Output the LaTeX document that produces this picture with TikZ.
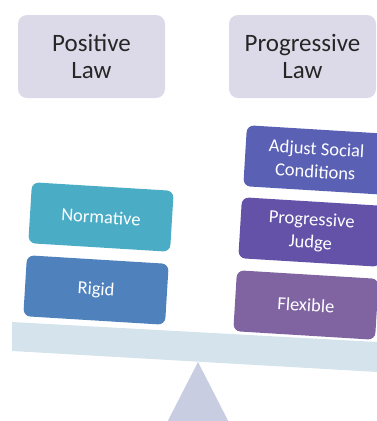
\documentclass[tikz,border=0pt]{standalone}
\usepackage{fontspec}
\setmainfont{Carlito}
\definecolor{headfill}{RGB}{220,218,232}
\definecolor{normfill}{RGB}{75,172,198}
\definecolor{rigidfill}{RGB}{79,129,189}
\definecolor{adjfill}{RGB}{90,96,180}
\definecolor{judgefill}{RGB}{100,82,168}
\definecolor{flexfill}{RGB}{128,100,162}
\definecolor{beamfill}{RGB}{213,228,236}
\definecolor{pivotfill}{RGB}{200,205,226}

\begin{document}
\begin{tikzpicture}[x=1pt,y=1pt,
	head/.style={rectangle,rounded corners=9pt,fill=headfill,text=black!85,minimum width=147pt,minimum height=83pt,align=center,font=\fontsize{25}{27}\selectfont},
	block/.style={rectangle,rounded corners=7pt,text=white,minimum width=142pt,minimum height=61pt,align=center,rotate=-3.5,font=\fontsize{18.5}{23}\selectfont}]
		\clip (0,0) rectangle (377,-421);
		\fill[pivotfill] (198,-362) -- (158,-440) -- (238,-440) -- cycle;
		\fill[beamfill] (12,-322) -- (395,-343) -- (395,-373) -- (12,-351) -- cycle;

		\node[head] (poslaw) at (91.5,-56.5){Positive\\Law};
		\node[head] (proglaw) at (302.5,-56.5){Progressive\\Law};

		\node[block,fill=normfill] (normative) at (101,-217){Normative};
		\node[block,fill=rigidfill] (rigid) at (96,-290){Rigid};

		\node[block,fill=adjfill] (adjust) at (316,-160){Adjust Social\\Conditions};
		\node[block,fill=judgefill] (judge) at (311,-232){Progressive\\Judge};
		\node[block,fill=flexfill] (flexible) at (306,-305){Flexible};
	\end{tikzpicture}
\end{document}
